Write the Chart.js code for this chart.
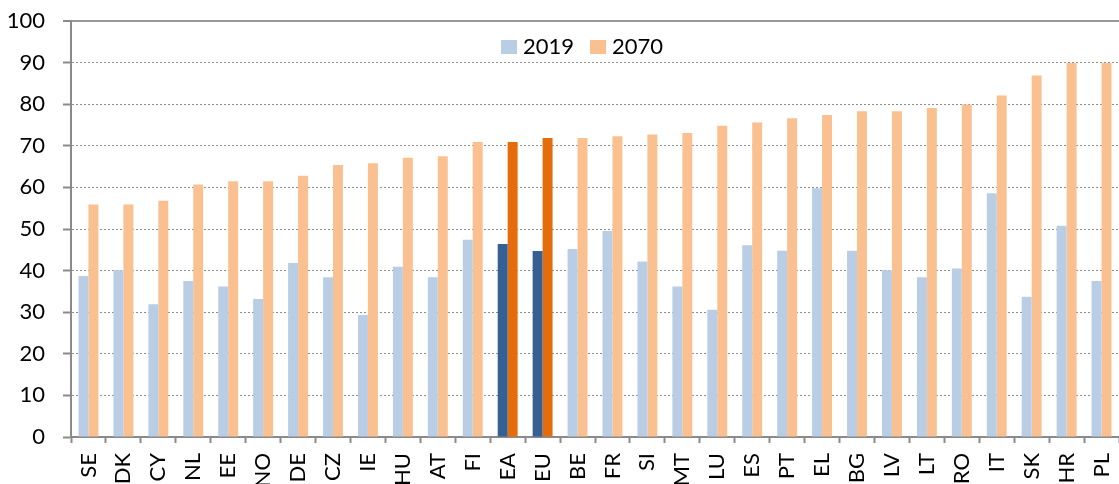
<!DOCTYPE html>
<html>
<head>
<meta charset="utf-8">
<script src="https://cdn.jsdelivr.net/npm/chart.js@4.4.1/dist/chart.umd.min.js"></script>
<style>
  html, body { margin: 0; padding: 0; background: #fff; }
  #wrap { width: 1119px; height: 484px; }
</style>
</head>
<body>
<div id="wrap"><canvas id="chart"></canvas></div>
<script>
// ---- Data ----
const countries = ['SE', 'DK', 'CY', 'NL', 'EE', 'NO', 'DE', 'CZ', 'IE', 'HU', 'AT', 'FI', 'EA', 'EU', 'BE',
                   'FR', 'SI', 'MT', 'LU', 'ES', 'PT', 'EL', 'BG', 'LV', 'LT', 'RO', 'IT', 'SK', 'HR', 'PL'];
const values2019 = [38.7, 40.1, 31.9, 37.5, 36.2, 33.2, 41.8, 38.4, 29.3, 40.9, 38.4, 47.4, 46.4, 44.7, 45.2,
                    49.5, 42.2, 36.2, 30.6, 46.1, 44.8, 59.8, 44.8, 40.1, 38.4, 40.5, 58.6, 33.7, 50.8, 37.5];
const values2070 = [55.9, 55.9, 56.8, 60.7, 61.5, 61.5, 62.8, 65.4, 65.8, 67.1, 67.5, 70.9, 70.9, 71.9, 71.9,
                    72.3, 72.7, 73.1, 74.8, 75.6, 76.6, 77.4, 78.3, 78.3, 79.1, 79.9, 82.1, 86.9, 89.9, 89.9];
const seriesLabels = ['2019', '2070'];
const aggregates = ['EA', 'EU'];
const yMin = 0, yMax = 100, yStep = 10;

// ---- Colours ----
const lightBlue = '#B9CDE5', darkBlue = '#366092';
const lightOrange = '#FAC090', darkOrange = '#E46C0A';
const axisGrey = '#8a8a8a';
const FONT = { family: 'Lato', size: 22 };

function barColour(light, dark) {
    return ctx => aggregates.includes(countries[ctx.dataIndex]) ? dark : light;
}

// ---- Legend drawn inside the plot area ----
const insideLegend = {
    id: 'insideLegend',
    afterDraw(chart) {
        const { ctx, chartArea } = chart;
        const boxes = [lightBlue, lightOrange];
        let x = chartArea.left + 430;
        const top = chartArea.top + 19;
        ctx.save();
        ctx.font = FONT.size + 'px ' + FONT.family;
        ctx.textBaseline = 'alphabetic';
        seriesLabels.forEach((label, i) => {
            ctx.fillStyle = boxes[i];
            ctx.fillRect(x, top, 16, 14);
            x += 22;
            ctx.fillStyle = '#000';
            ctx.fillText(label, x, top + 14);
            x += ctx.measureText(label).width + 16;
        });
        ctx.restore();
    }
};

// ---- Chart ----
new Chart(document.getElementById('chart'), {
    type: 'bar',
    data: {
        labels: countries,
        datasets: [
            { label: seriesLabels[0], data: values2019, backgroundColor: barColour(lightBlue, darkBlue) },
            { label: seriesLabels[1], data: values2070, backgroundColor: barColour(lightOrange, darkOrange) }
        ]
    },
    options: {
        responsive: true,
        maintainAspectRatio: false,
        animation: false,
        devicePixelRatio: 1,
        layout: { padding: { top: 21, right: 0, left: 0, bottom: 0 } },
        datasets: { bar: { categoryPercentage: 0.57, barPercentage: 1.0 } },
        plugins: {
            legend: { display: false },
            tooltip: { enabled: false }
        },
        scales: {
            x: {
                grid: { offset: true, drawOnChartArea: false, drawTicks: true, tickLength: 6,
                        tickColor: axisGrey, tickWidth: 2 },
                border: { color: axisGrey, width: 2 },
                ticks: { minRotation: 90, maxRotation: 90, autoSkip: false, padding: 10,
                         color: '#000', font: FONT },
                afterFit: s => {
                    s.height = 47;
                    s.paddingLeft = 0;
                    s.paddingRight = 0;
                }
            },
            y: {
                min: yMin, max: yMax,
                ticks: { stepSize: yStep, padding: 18, color: '#000', font: FONT },
                grid: {
                    color: ctx => ctx.tick && ctx.tick.value === yMax ? '#999' : '#8c8c8c',
                    lineWidth: ctx => ctx.tick && ctx.tick.value === yMax ? 2 : 1,
                    tickLength: 8, tickColor: axisGrey, tickWidth: 2, tickBorderDash: []
                },
                border: {
                    color: axisGrey, width: 2,
                    dash: ctx => (ctx.type === 'tick' && ctx.tick.value !== yMax) ? [2, 2] : []
                },
                afterFit: s => {
                    s.width = 71;
                    s.paddingTop = 0;
                    s.paddingBottom = 0;
                }
            }
        }
    },
    plugins: [insideLegend]
});
</script>
</body>
</html>
